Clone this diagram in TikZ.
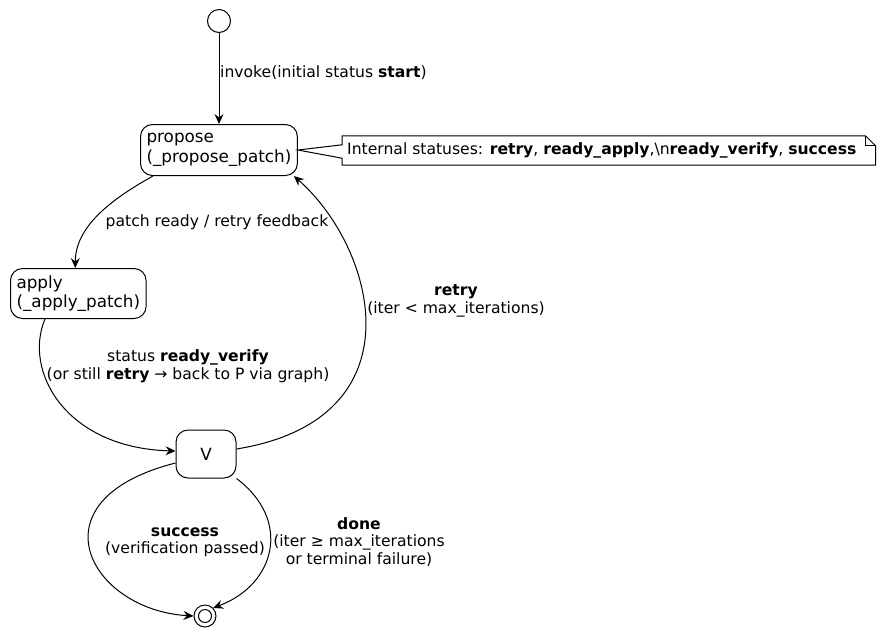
\documentclass[tikz,border=0pt]{standalone}
\usepackage{fontspec}
\setmainfont{DejaVu Sans}
\usetikzlibrary{arrows.meta,calc,backgrounds}
\begin{document}
\begin{tikzpicture}[x=1pt,y=-1pt,
  state/.style={draw, line width=1pt, rounded corners=12pt,
    font=\fontsize{16.8}{19.5}\selectfont, align=left,
    inner xsep=6pt, inner ysep=4pt},
  lbl/.style={font=\fontsize{15.6}{17.5}\selectfont, align=center, inner sep=0pt},
  edge/.style={line width=1pt, -{Stealth[length=10pt,width=9pt,inset=3.5pt]}},
  pseudo/.style={draw, circle, line width=1pt, inner sep=0pt},
]
\useasboundingbox (0,0) rectangle (877,633);

% states
\node[pseudo, minimum size=23pt] (init) at (219,21) {};
\node[state, anchor=north west, minimum height=51pt] (propose) at (140,124)
  {propose\\(\_propose\_patch)};
\node[state, anchor=north west, minimum height=50pt] (apply) at (10,268)
  {apply\\(\_apply\_patch)};
\node[state, align=center, minimum width=60pt, minimum height=48pt] (V) at (206,454) {V};
\node[pseudo, minimum size=22pt] (final) at (205,616) {};
\node[pseudo, minimum size=13pt] (finalin) at (final) {};

% note attached to propose, with a folded corner and a wedge pointing at the state
\node[lbl, anchor=west, inner xsep=5pt, minimum height=29pt] (note) at (342,150.5)
  {Internal statuses: \textbf{retry}, \textbf{ready\_apply},\textbackslash n\textbf{ready\_verify}, \textbf{success}};
\coordinate (nNW) at (note.north west);
\coordinate (nSW) at (note.south west);
\coordinate (nNE) at ([xshift=14pt]note.north east);
\coordinate (nSE) at ([xshift=14pt]note.south east);
\begin{scope}[on background layer]
\draw[line width=1pt, fill=white]
  (nNW) -- ([xshift=-10pt]nNE) -- ([yshift=-10pt]nNE) -- (nSE) -- (nSW)
  -- ([yshift=7pt]nSW) -- (propose.east) -- ([yshift=-9pt]nNW) -- cycle;
\draw[line width=1pt] ([xshift=-10pt]nNE) -- ([xshift=-10pt,yshift=-10pt]nNE) -- ([yshift=-10pt]nNE);
\end{scope}

% transitions
\draw[edge] (init) -- (init |- propose.north);
\draw[edge] ([xshift=13pt]propose.south west) .. controls +(-45,25) and +(0,-40) .. ([xshift=-3pt]apply.north);
\draw[edge] ([xshift=35pt]apply.south west) .. controls +(-22,52) and +(-110,-3) .. ([yshift=3pt]V.west);
\draw[edge] ([yshift=5pt]V.east) .. controls +(185,-30) and +(82,72) .. ([xshift=-4pt]propose.south east);
\draw[edge] ([yshift=-9pt]V.west) .. controls +(-146,37) and +(-104,-6) .. (final.west);
\draw[edge] (V.south east) .. controls +(56,42) and +(62,-23) .. (final.north east);

% transition labels
\node[lbl, anchor=west] (lInvoke) at (220,73) {invoke(initial status \textbf{start})};
\node[lbl] (lPatch) at (217,222) {patch ready / retry feedback};
\node[lbl] (lStatus) at (188,366) {status \textbf{ready\_verify}\\(or still \textbf{retry} → back to P via graph)};
\node[lbl] (lRetry) at (456,301) {\textbf{retry}\\(iter < max\_iterations)};
\node[lbl] (lSuccess) at (185,542) {\textbf{success}\\(verification passed)};
\node[lbl] (lDone) at (359,542) {\textbf{done}\\(iter ≥ max\_iterations\\or terminal failure)};
\end{tikzpicture}
\end{document}
